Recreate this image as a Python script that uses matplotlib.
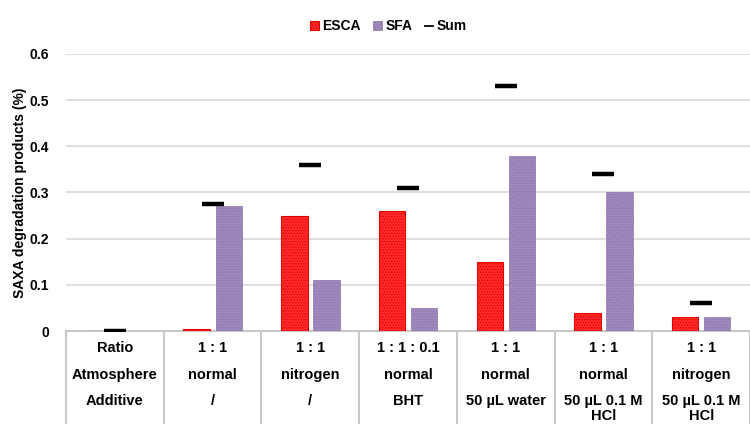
import matplotlib
matplotlib.use("Agg")
import matplotlib.pyplot as plt
from matplotlib.lines import Line2D
import numpy as np

plt.rcParams['font.family'] = ['Liberation Sans', 'DejaVu Sans']
plt.rcParams['font.weight'] = 'bold'
plt.rcParams['hatch.linewidth'] = 0.6

# data
groups = ["", "1", "2", "3", "4", "5", "6"]
esca = [0.0, 0.005, 0.25, 0.26, 0.15, 0.04, 0.03]
sfa = [0.0, 0.27, 0.11, 0.05, 0.38, 0.30, 0.03]
total = [0.0, 0.275, 0.36, 0.31, 0.53, 0.34, 0.06]

ratio = ["Ratio", "1 : 1", "1 : 1", "1 : 1 : 0.1", "1 : 1", "1 : 1", "1 : 1"]
atmos = ["Atmosphere", "normal", "nitrogen", "normal", "normal", "normal", "nitrogen"]
additive = ["Additive", "/", "/", "BHT", "50 µL water", "50 µL 0.1 M\nHCl", "50 µL 0.1 M\nHCl"]

fig = plt.figure(figsize=(7.5, 4.24), dpi=100)
ax = fig.add_axes([0.088, 0.219, 0.912, 0.654])

x = np.arange(len(groups))
w = 0.27
b1 = ax.bar(x - 0.163, esca, w, color='#ff2b2b', edgecolor='#e00000', hatch='......', linewidth=0.8, label='ESCA', zorder=3)
b2 = ax.bar(x + 0.165, sfa, w, color='#a089bd', edgecolor='#8c74aa', hatch='......', linewidth=0.5, label='SFA', zorder=3)
ax.plot(x, total, linestyle='none', marker='_', markersize=16, mew=3.2, color='black', label='Sum', zorder=4)

ax.set_xlim(-0.5, 6.5)
ax.set_ylim(0, 0.6)
ax.set_yticks(np.arange(0, 0.61, 0.1))
ax.set_yticklabels(['0', '0.1', '0.2', '0.3', '0.4', '0.5', '0.6'], fontsize=10, fontweight='bold')
ax.set_xticks([])
ax.yaxis.grid(True, color='#d9d9d9', linewidth=1.2, zorder=0)
for s in ['top', 'right', 'left']:
    ax.spines[s].set_visible(False)
ax.spines['bottom'].set_color('#c8c8c8')
ax.spines['bottom'].set_linewidth(1.5)
ax.tick_params(axis='y', length=0, pad=12)
ax.set_ylabel('SAXA degradation products (%)', fontsize=10, fontweight='bold', labelpad=2)

# table under the axis
tr = ax.get_xaxis_transform()
for i in range(len(groups) + 1):
    ax.plot([i - 0.5, i - 0.5], [0, -0.36], transform=tr,
            color='#c8c8c8', linewidth=1.5, clip_on=False)
for i in range(len(groups)):
    ax.text(i, -0.061, ratio[i], transform=tr, ha='center', va='center', fontsize=10.5, fontweight='bold')
    ax.text(i, -0.159, atmos[i], transform=tr, ha='center', va='center', fontsize=10.5, fontweight='bold')
    ax.text(i, -0.228, additive[i], transform=tr, ha='center', va='top', fontsize=10.5,
            fontweight='bold', linespacing=1.1)

sum_handle = Line2D([], [], color='black', linewidth=1.3)
fig.legend(handles=[b1, b2, sum_handle], labels=['ESCA', 'SFA', 'Sum'], loc='center',
           bbox_to_anchor=(0.518, 0.938), ncol=3, frameon=False,
           handlelength=0.6, handleheight=0.6, handletextpad=0.25, columnspacing=0.9,
           prop={'weight': 'bold', 'size': 10})

fig.savefig('out.png', dpi=100)
